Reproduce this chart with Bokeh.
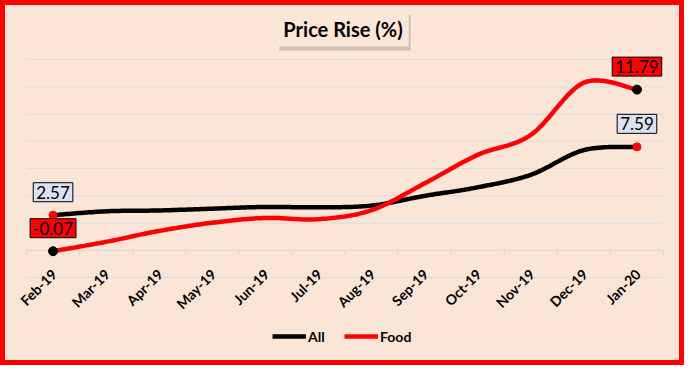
import numpy as np
from math import pi
from bokeh.plotting import figure
from bokeh.models import Label, Legend, LegendItem, Range1d
from bokeh.core.properties import value
from bokeh.embed import file_html
from bokeh.resources import INLINE

months = ["Feb-19", "Mar-19", "Apr-19", "May-19", "Jun-19", "Jul-19",
          "Aug-19", "Sep-19", "Oct-19", "Nov-19", "Dec-19", "Jan-20"]
all_vals = [2.57, 2.86, 2.92, 3.05, 3.18, 3.15, 3.28, 3.99, 4.62, 5.54, 7.35, 7.59]
food_vals = [-0.07, 0.62, 1.42, 2.02, 2.37, 2.28, 2.94, 4.91, 7.0, 8.46, 12.3, 11.79]
y_ticks = [-2, 0, 2, 4, 6, 8, 10, 12, 14]

BG = "#fbe5d6"
GRID = "#d5dce6"
AXC = "#cfd6e0"
FONT = "Lato"
W, H = 684, 365
# plot-area placement inside the canvas (pixels)
PL, PR, PT, PB = 26, 663, 59, 277


def smooth(ys, n=24):
    xs = np.arange(len(ys), dtype=float)
    pts = np.column_stack([xs, np.asarray(ys, dtype=float)])
    P = np.vstack([pts[0], pts, pts[-1]])
    out = []
    for i in range(len(pts) - 1):
        p0, p1, p2, p3 = P[i], P[i + 1], P[i + 2], P[i + 3]
        c1 = p1 + (p2 - p0) / 6.0
        c2 = p2 - (p3 - p1) / 6.0
        t = np.linspace(0, 1, n, endpoint=(i == len(pts) - 2))[:, None]
        seg = (1 - t) ** 3 * p1 + 3 * (1 - t) ** 2 * t * c1 + 3 * (1 - t) * t ** 2 * c2 + t ** 3 * p2
        out.append(seg)
    arr = np.vstack(out)
    return arr[:, 0], arr[:, 1]


n = len(months)
x_lo, x_hi = -0.5, n - 0.5
y_lo, y_hi = y_ticks[0], y_ticks[-1]
ux = (PR - PL) / (x_hi - x_lo)
uy = (PB - PT) / (y_hi - y_lo)
x_range = Range1d(x_lo - PL / ux, x_hi + (W - PR) / ux)
y_range = Range1d(y_lo - (H - PB) / uy, y_hi + PT / uy)

p = figure(width=W, height=H, x_range=x_range, y_range=y_range,
           output_backend="svg", toolbar_location=None,
           x_axis_location=None, y_axis_location=None,
           min_border=0, min_border_left=0, min_border_right=0, min_border_top=0, min_border_bottom=0,
           background_fill_color=BG, border_fill_color=BG,
           outline_line_color="#ff0000", outline_line_width=9)
p.grid.visible = False

# horizontal gridlines
grid_y = [t for t in y_ticks if t != 0]
p.segment(x0=[x_lo] * len(grid_y), x1=[x_hi] * len(grid_y), y0=grid_y, y1=grid_y,
          line_color=GRID, line_width=1)

# category axis line at zero with boundary ticks
p.segment(x0=[x_lo], x1=[x_hi], y0=[0], y1=[0], line_color=AXC, line_width=1)
bounds = [i - 0.5 for i in range(n + 1)]
p.segment(x0=bounds, x1=bounds, y0=[0] * len(bounds), y1=[-5 / uy] * len(bounds),
          line_color=AXC, line_width=1)

# category labels
p.text(x=list(range(n)), y=[y_lo] * n, text=months, angle=pi / 4,
       text_align="right", text_baseline="middle", x_offset=1, y_offset=-6,
       text_font=value(FONT), text_font_style="bold", text_font_size="14px", text_color="#000000")

ax, ay = smooth(all_vals)
fx, fy = smooth(food_vals)
r_all = p.line(ax, ay, line_color="#000000", line_width=4.5)
r_food = p.line(fx, fy, line_color="#ff0000", line_width=4.5)

ends = [0, n - 1]
p.scatter(ends, [all_vals[i] for i in ends], size=8, color="#ff0000")
p.scatter(ends, [food_vals[i] for i in ends], size=9, color="#000000")

for idx in ends:
    p.add_layout(Label(x=idx, y=all_vals[idx], text=f"{all_vals[idx]:.2f}", y_offset=23,
                       text_align="center", text_baseline="middle", text_font=FONT,
                       text_font_size="17px", text_color="#000000",
                       background_fill_color="#dae3f3", border_line_color="#000000",
                       border_line_width=1, padding=3))
    p.add_layout(Label(x=idx, y=food_vals[idx], text=f"{food_vals[idx]:.2f}", y_offset=23,
                       text_align="center", text_baseline="middle", text_font=FONT,
                       text_font_size="17px", text_color="#000000",
                       background_fill_color="#ff0000", border_line_color="#000000",
                       border_line_width=1, padding=3))

# title with shadow
title_text = "Price Rise (%)"
cx = (x_lo + x_hi) / 2
p.add_layout(Label(x=cx, y=y_hi, y_offset=PT - 28 - 4, x_offset=0, text=title_text,
                   text_align="center", text_baseline="middle", text_font=FONT,
                   text_font_size="20px", text_font_style="bold", text_color="#9a9a9a",
                   text_alpha=0.4, background_fill_color="#8a8a8a", background_fill_alpha=0.4,
                   padding=6))
p.add_layout(Label(x=cx, y=y_hi, y_offset=PT - 28, x_offset=-2, text=title_text,
                   text_align="center", text_baseline="middle", text_font=FONT,
                   text_font_size="20px", text_font_style="bold", text_color="#000000",
                   background_fill_color="#fce6d8", padding=6))

legend = Legend(items=[LegendItem(label="All", renderers=[r_all]),
                       LegendItem(label="Food", renderers=[r_food])],
                orientation="horizontal", location=(272, 19),
                label_text_font=FONT, label_text_font_style="bold", label_text_font_size="14px",
                label_text_color="#000000",
                glyph_width=34, label_standoff=2, spacing=16,
                background_fill_alpha=0, border_line_color=None, padding=0, margin=0)
p.add_layout(legend, "center")

open("out.html", "w").write(file_html(p, INLINE))
